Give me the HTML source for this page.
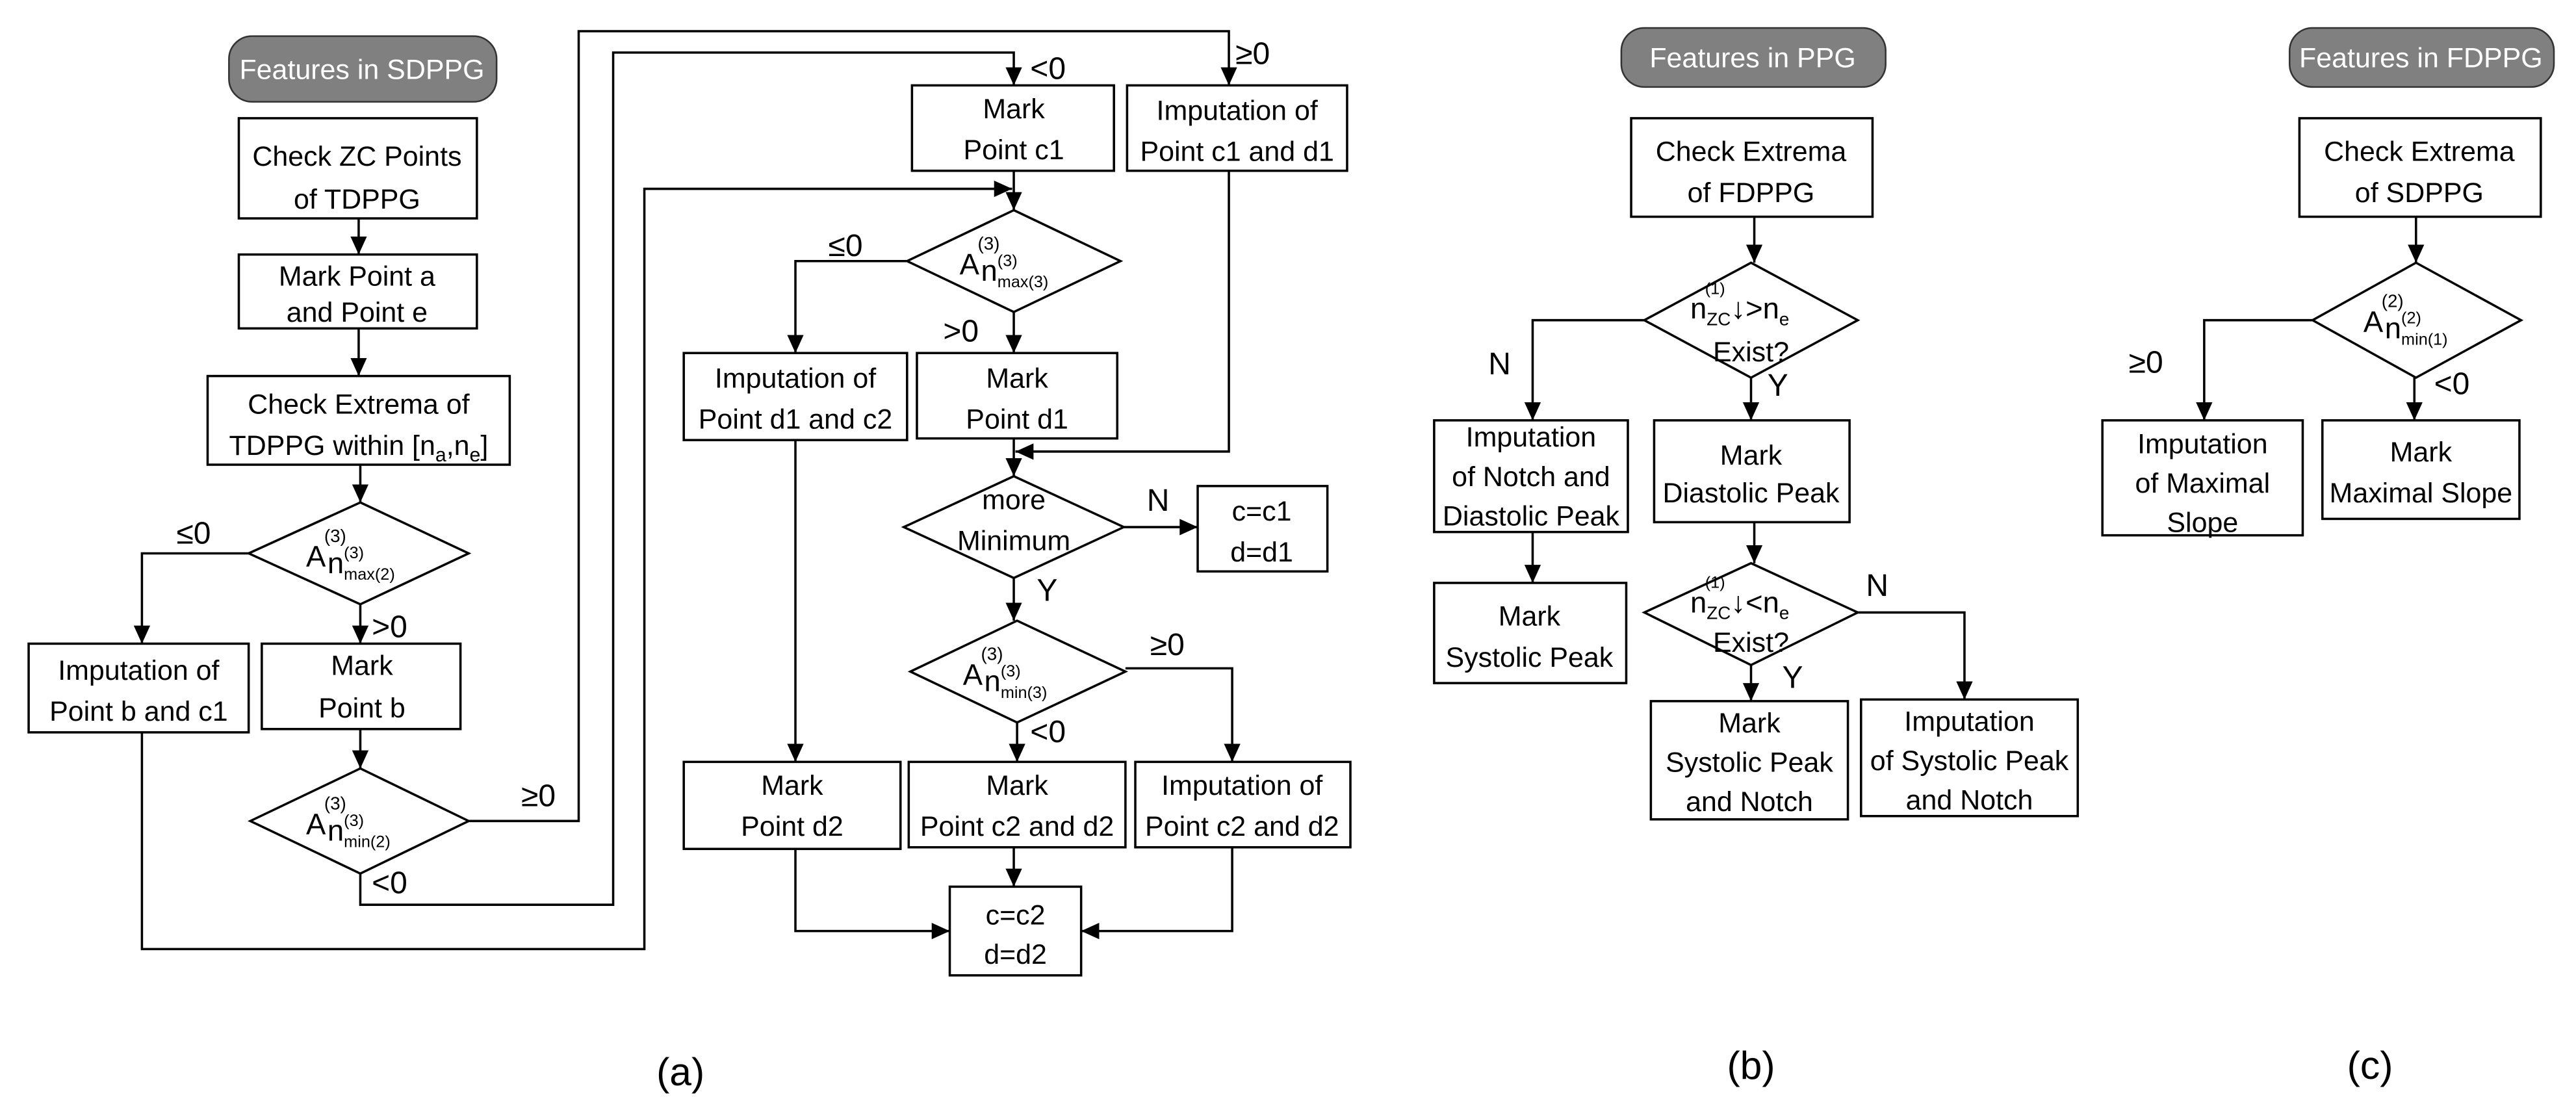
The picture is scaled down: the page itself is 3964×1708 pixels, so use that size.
<!DOCTYPE html>
<html><head><meta charset="utf-8"><style>
html,body{margin:0;padding:0;background:#fff;}
svg{display:block;}
text{font-family:"Liberation Sans",sans-serif;fill:#000;}
</style></head><body>
<svg width="3964" height="1708" viewBox="0 0 1568 676" xmlns="http://www.w3.org/2000/svg">
<defs>
<marker id="ar" markerUnits="userSpaceOnUse" markerWidth="12" markerHeight="10" refX="11" refY="5" orient="auto">
<path d="M0,0 L11,5 L0,10 z" fill="#000"/></marker>
</defs>
<g fill="none" stroke="#000" stroke-width="1.4">
<rect x="145" y="72" width="145" height="61"/>
<rect x="145" y="155" width="145" height="45"/>
<rect x="126" y="229" width="184" height="54"/>
<rect x="17" y="392" width="134" height="54"/>
<rect x="159" y="392" width="121" height="52"/>
<rect x="555" y="52" width="123" height="52"/>
<rect x="686" y="52" width="134" height="52"/>
<rect x="416" y="215" width="136" height="53"/>
<rect x="558" y="215" width="122" height="52"/>
<rect x="729" y="296" width="79" height="52"/>
<rect x="416" y="464" width="132" height="53"/>
<rect x="553" y="464" width="132" height="52"/>
<rect x="691" y="464" width="131" height="52"/>
<rect x="578" y="540" width="80" height="54"/>
<polygon points="219,306 285,337 219,368 151,337"/>
<polygon points="219,468 285,500 219,532 152,500"/>
<polygon points="617,128 682,159 617,190 552,159"/>
<polygon points="617,290 684,321 617,352 550,321"/>
<polygon points="619,378 685,409 619,440 554,409"/>
<line x1="218" y1="133" x2="218" y2="155" marker-end="url(#ar)"/>
<line x1="218" y1="200" x2="218" y2="229" marker-end="url(#ar)"/>
<line x1="219" y1="283" x2="219" y2="306" marker-end="url(#ar)"/>
<polyline points="151,337 86,337 86,392" marker-end="url(#ar)"/>
<line x1="219" y1="368" x2="219" y2="392" marker-end="url(#ar)"/>
<line x1="219" y1="444" x2="219" y2="468" marker-end="url(#ar)"/>
<polyline points="285,500 352,500 352,19 748,19 748,52" marker-end="url(#ar)"/>
<polyline points="219,532 219,551 373,551 373,32 617,32 617,52" marker-end="url(#ar)"/>
<polyline points="86,446 86,578 392,578 392,115 616,115" marker-end="url(#ar)"/>
<line x1="617" y1="104" x2="617" y2="128" marker-end="url(#ar)"/>
<polyline points="748,104 748,275 618,275" marker-end="url(#ar)"/>
<polyline points="552,159 484,159 484,215" marker-end="url(#ar)"/>
<line x1="617" y1="190" x2="617" y2="215" marker-end="url(#ar)"/>
<line x1="617" y1="267" x2="617" y2="290" marker-end="url(#ar)"/>
<line x1="684" y1="321" x2="729" y2="321" marker-end="url(#ar)"/>
<line x1="617" y1="352" x2="617" y2="378" marker-end="url(#ar)"/>
<polyline points="685,407 750,407 750,464" marker-end="url(#ar)"/>
<line x1="619" y1="440" x2="619" y2="464" marker-end="url(#ar)"/>
<line x1="484" y1="268" x2="484" y2="464" marker-end="url(#ar)"/>
<line x1="617" y1="516" x2="617" y2="540" marker-end="url(#ar)"/>
<polyline points="484,517 484,567 578,567" marker-end="url(#ar)"/>
<polyline points="750,516 750,567 658,567" marker-end="url(#ar)"/>
<rect x="993" y="72" width="147" height="60"/>
<rect x="873" y="256" width="118" height="68"/>
<rect x="1007" y="256" width="119" height="62"/>
<rect x="873" y="355" width="117" height="61"/>
<rect x="1005" y="427" width="120" height="72"/>
<rect x="1133" y="426" width="132" height="71"/>
<polygon points="1066,160 1131,195 1066,230 1001,195"/>
<polygon points="1066,343 1131,373 1066,405 1001,373"/>
<line x1="1068" y1="132" x2="1068" y2="160" marker-end="url(#ar)"/>
<polyline points="1001,195 933,195 933,256" marker-end="url(#ar)"/>
<line x1="1066" y1="230" x2="1066" y2="256" marker-end="url(#ar)"/>
<line x1="933" y1="324" x2="933" y2="355" marker-end="url(#ar)"/>
<line x1="1068" y1="318" x2="1068" y2="343" marker-end="url(#ar)"/>
<polyline points="1131,373 1196,373 1196,426" marker-end="url(#ar)"/>
<line x1="1066" y1="405" x2="1066" y2="427" marker-end="url(#ar)"/>
<rect x="1400" y="72" width="147" height="60"/>
<rect x="1280" y="256" width="122" height="70"/>
<rect x="1414" y="256" width="120" height="60"/>
<polygon points="1471,160 1535,195 1471,230 1408,195"/>
<line x1="1471" y1="132" x2="1471" y2="160" marker-end="url(#ar)"/>
<polyline points="1408,195 1342,195 1342,256" marker-end="url(#ar)"/>
<line x1="1470" y1="230" x2="1470" y2="256" marker-end="url(#ar)"/>
</g>
<g fill="#808080" stroke="#333" stroke-width="1">
<rect x="139" y="22" width="163" height="40" rx="14"/>
<rect x="987" y="17" width="161" height="36" rx="14"/>
<rect x="1394" y="17" width="161" height="36" rx="14"/>
</g>
<g font-size="17" text-anchor="middle">
<text x="220" y="48" style="fill:#fff">Features in SDPPG</text>
<text x="1067" y="41" style="fill:#fff">Features in PPG</text>
<text x="1474" y="41" style="fill:#fff">Features in FDPPG</text>

<text x="217" y="101">Check ZC Points</text>
<text x="217" y="127">of TDPPG</text>
<text x="217" y="174">Mark Point a</text>
<text x="217" y="196">and Point e</text>
<text x="218" y="252">Check Extrema of</text>
<text x="218" y="277">TDPPG within [n<tspan font-size="12" dy="4">a</tspan><tspan dy="-4">,n</tspan><tspan font-size="12" dy="4">e</tspan><tspan dy="-4">]</tspan></text>
<text x="84" y="414">Imputation of</text>
<text x="84" y="439">Point b and c1</text>
<text x="220" y="411">Mark</text>
<text x="220" y="437">Point b</text>
<text x="617" y="72">Mark</text>
<text x="617" y="97">Point c1</text>
<text x="753" y="73">Imputation of</text>
<text x="753" y="98">Point c1 and d1</text>
<text x="484" y="236">Imputation of</text>
<text x="484" y="261">Point d1 and c2</text>
<text x="619" y="236">Mark</text>
<text x="619" y="261">Point d1</text>
<text x="617" y="310">more</text>
<text x="617" y="335">Minimum</text>
<text x="768" y="317">c=c1</text>
<text x="768" y="342">d=d1</text>
<text x="482" y="484">Mark</text>
<text x="482" y="509">Point d2</text>
<text x="619" y="484">Mark</text>
<text x="619" y="509">Point c2 and d2</text>
<text x="756" y="484">Imputation of</text>
<text x="756" y="509">Point c2 and d2</text>
<text x="618" y="563">c=c2</text>
<text x="618" y="587">d=d2</text>

<text x="1066" y="98">Check Extrema</text>
<text x="1066" y="123">of FDPPG</text>
<text x="932" y="272">Imputation</text>
<text x="932" y="296">of Notch and</text>
<text x="932" y="320">Diastolic Peak</text>
<text x="1066" y="283">Mark</text>
<text x="1066" y="306">Diastolic Peak</text>
<text x="931" y="381">Mark</text>
<text x="931" y="406">Systolic Peak</text>
<text x="1065" y="446">Mark</text>
<text x="1065" y="470">Systolic Peak</text>
<text x="1065" y="494">and Notch</text>
<text x="1199" y="445">Imputation</text>
<text x="1199" y="469">of Systolic Peak</text>
<text x="1199" y="493">and Notch</text>

<text x="1473" y="98">Check Extrema</text>
<text x="1473" y="123">of SDPPG</text>
<text x="1341" y="276">Imputation</text>
<text x="1341" y="300">of Maximal</text>
<text x="1341" y="324">Slope</text>
<text x="1474" y="281">Mark</text>
<text x="1474" y="306">Maximal Slope</text>
</g>
<g font-size="19">
<text x="107" y="331">≤0</text>
<text x="226" y="388">&gt;0</text>
<text x="317" y="491">≥0</text>
<text x="226" y="544">&lt;0</text>
<text x="627" y="48">&lt;0</text>
<text x="752" y="39">≥0</text>
<text x="504" y="156">≤0</text>
<text x="574" y="208">&gt;0</text>
<text x="698" y="311">N</text>
<text x="631" y="366">Y</text>
<text x="700" y="399">≥0</text>
<text x="627" y="452">&lt;0</text>
<text x="906" y="228">N</text>
<text x="1076" y="241">Y</text>
<text x="1136" y="363">N</text>
<text x="1085" y="419">Y</text>
<text x="1296" y="227">≥0</text>
<text x="1482" y="240">&lt;0</text>
</g>
<g font-size="18">
<text x="186" y="345">A</text><text x="197" y="330" font-size="11">(3)</text><text x="199" y="349">n</text><text x="209" y="340" font-size="10">(3)</text><text x="209" y="353" font-size="10">max(2)</text>
<text x="186" y="508">A</text><text x="197" y="493" font-size="11">(3)</text><text x="199" y="512">n</text><text x="209" y="503" font-size="10">(3)</text><text x="209" y="516" font-size="10">min(2)</text>
<text x="584" y="167">A</text><text x="595" y="152" font-size="11">(3)</text><text x="597" y="171">n</text><text x="607" y="162" font-size="10">(3)</text><text x="607" y="175" font-size="10">max(3)</text>
<text x="586" y="417">A</text><text x="597" y="402" font-size="11">(3)</text><text x="599" y="421">n</text><text x="609" y="412" font-size="10">(3)</text><text x="609" y="425" font-size="10">min(3)</text>
<text x="1439" y="202">A</text><text x="1450" y="187" font-size="11">(2)</text><text x="1452" y="206">n</text><text x="1462" y="197" font-size="10">(2)</text><text x="1462" y="210" font-size="10">min(1)</text>
<text x="1029" y="194">n<tspan font-size="11" dy="4">ZC</tspan><tspan dy="-4">↓&gt;n</tspan><tspan font-size="11" dy="4">e</tspan></text><text x="1038" y="179" font-size="10">(1)</text>
<text x="1066" y="220" text-anchor="middle" font-size="17">Exist?</text>
<text x="1029" y="373">n<tspan font-size="11" dy="4">ZC</tspan><tspan dy="-4">↓&lt;n</tspan><tspan font-size="11" dy="4">e</tspan></text><text x="1038" y="358" font-size="10">(1)</text>
<text x="1066" y="397" text-anchor="middle" font-size="17">Exist?</text>
</g>
<g font-size="24" text-anchor="middle">
<text x="414" y="661">(a)</text>
<text x="1066" y="657">(b)</text>
<text x="1443" y="657">(c)</text>
</g>
</svg>
</body></html>
